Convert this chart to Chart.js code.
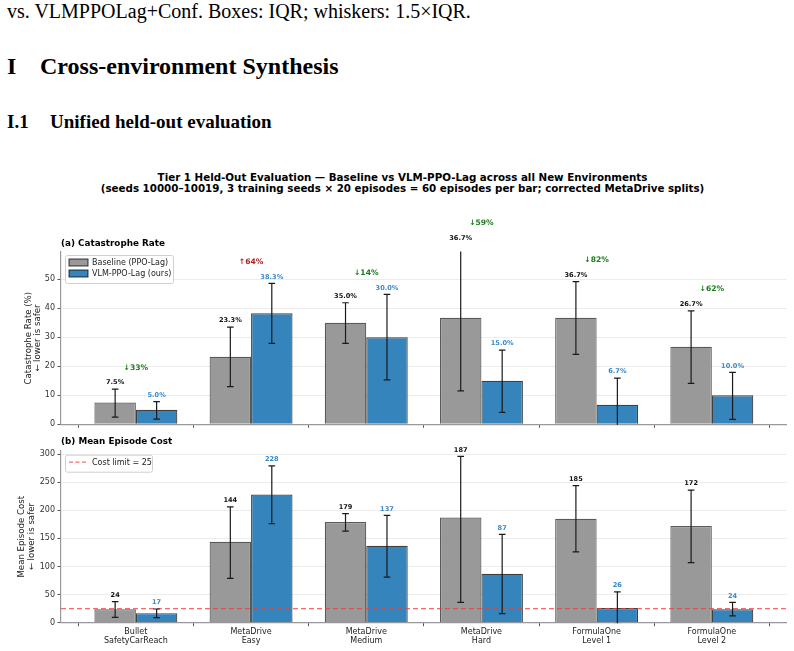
<!DOCTYPE html>
<html>
<head>
<meta charset="utf-8">
<script src="https://cdn.jsdelivr.net/npm/chart.js@4.4.1/dist/chart.umd.min.js"></script>
<style>
  body { margin: 0; background: #fff; width: 794px; height: 651px; overflow: hidden; position: relative; }
  .serif { position: absolute; white-space: nowrap; font-family: "Liberation Serif", "Times New Roman", serif; color: #000; line-height: 1; }
  .sup { position: absolute; left: 0; width: 805px; text-align: center; font-family: "DejaVu Sans", sans-serif; font-weight: bold; font-size: 10.3px; line-height: 11px; color: #000; }
  .box { position: absolute; left: 0; width: 794px; }
</style>
</head>
<body>
<div class="serif" style="left:7px; top:1px; font-size:20px;">vs. VLMPPOLag+Conf. Boxes: IQR; whiskers: 1.5×IQR.</div>
<div class="serif" style="left:7px; top:54px; font-size:24px; font-weight:bold;">I</div>
<div class="serif" style="left:40px; top:54px; font-size:24px; font-weight:bold;">Cross-environment Synthesis</div>
<div class="serif" style="left:7px; top:111.5px; font-size:19px; font-weight:bold;">I.1</div>
<div class="serif" style="left:50px; top:111.5px; font-size:19px; font-weight:bold;">Unified held-out evaluation</div>

<div class="sup" style="top:172px;">Tier 1 Held-Out Evaluation — Baseline vs VLM-PPO-Lag across all New Environments<br>(seeds 10000–10019, 3 training seeds × 20 episodes = 60 episodes per bar; corrected MetaDrive splits)</div>

<div class="box" style="top:205px; height:227px;"><canvas id="rate"></canvas></div>
<div class="box" style="top:432px; height:219px;"><canvas id="cost"></canvas></div>

<script>
// environments (x categories)
const envs = [
  ['Bullet', 'SafetyCarReach'],
  ['MetaDrive', 'Easy'],
  ['MetaDrive', 'Medium'],
  ['MetaDrive', 'Hard'],
  ['FormulaOne', 'Level 1'],
  ['FormulaOne', 'Level 2']
];

// (a) catastrophe rate, %
const rateBase   = [7.5, 23.3, 35.0, 36.7, 36.7, 26.7];
const rateBaseLo = [2.5, 13.0, 27.9, 11.5, 24.1, 14.1];
const rateBaseHi = [12.1, 33.5, 41.9, 61.9, 49.2, 39.1];
const rateVlm    = [5.0, 38.3, 30.0, 15.0, 6.7, 10.0];
const rateVlmLo  = [1.8, 27.9, 15.3, 4.1, -2.5, 1.7];
const rateVlmHi  = [7.8, 48.6, 44.8, 25.6, 15.9, 17.9];
const rateChange = ['↓33%', '↑64%', '↓14%', '↓59%', '↓82%', '↓62%'];

// (b) mean episode cost
const costBase   = [24, 144, 179, 187, 185, 172];
const costBaseLo = [9.6, 79, 163, 36, 126, 107];
const costBaseHi = [37.4, 206, 194, 296, 244, 236];
const costVlm    = [17, 228, 137, 87, 26, 24];
const costVlmLo  = [8.9, 176, 81, 16, -3, 12];
const costVlmHi  = [24.4, 279, 191, 157, 55, 36];
const costLimit  = 25;

const GRAY = '#999999';
const BLUE = '#3584bb';
const FONT = '"DejaVu Sans", sans-serif';

function pts(arr) { return arr.map((v, i) => ({ x: i, y: v })); }

// error bars, value labels, change labels, legend and panel title
function makeDecor(cfg) {
  return {
    id: 'decor',
    afterDatasetsDraw(chart) {
      const ctx = chart.ctx, a = chart.chartArea, y = chart.scales.y;

      ctx.save();
      ctx.beginPath();
      ctx.rect(a.left, a.top - 0.5, a.right - a.left, a.bottom - a.top + 1);
      ctx.clip();
      ctx.strokeStyle = '#1a1a1a';
      ctx.lineWidth = 1.2;
      cfg.errors.forEach((e, d) => {
        chart.getDatasetMeta(d).data.forEach((bar, i) => {
          const x = bar.x, yl = y.getPixelForValue(e.lo[i]), yh = y.getPixelForValue(e.hi[i]);
          ctx.beginPath();
          ctx.moveTo(x, yl); ctx.lineTo(x, yh);
          ctx.moveTo(x - 3.3, yl); ctx.lineTo(x + 3.3, yl);
          ctx.moveTo(x - 3.3, yh); ctx.lineTo(x + 3.3, yh);
          ctx.stroke();
        });
      });
      ctx.restore();

      ctx.save();
      ctx.textAlign = 'center';
      ctx.textBaseline = 'middle';
      ctx.font = 'bold 6.6px ' + FONT;
      cfg.errors.forEach((e, d) => {
        ctx.fillStyle = e.color;
        chart.getDatasetMeta(d).data.forEach((bar, i) => {
          ctx.fillText(cfg.fmt(e.val[i]), bar.x, y.getPixelForValue(e.hi[i]) - 6.5);
        });
      });

      if (cfg.change) {
        ctx.font = 'bold 7.6px ' + FONT;
        const m0 = chart.getDatasetMeta(0).data, m1 = chart.getDatasetMeta(1).data;
        cfg.change.forEach((t, i) => {
          const top = Math.max(cfg.errors[0].hi[i], cfg.errors[1].hi[i]);
          ctx.fillStyle = t.startsWith('↑') ? '#b01e1e' : '#1b7d1b';
          ctx.fillText(t, (m0[i].x + m1[i].x) / 2, y.getPixelForValue(top) - 21.5);
        });
      }

      // panel title
      ctx.textAlign = 'left';
      ctx.fillStyle = '#000';
      ctx.font = 'bold 8.8px ' + FONT;
      ctx.fillText(cfg.title, a.left, a.top - 8.5);

      // legend
      const L = cfg.legend;
      const bx = a.left + 4, by = a.top + L.dy;
      ctx.fillStyle = 'rgba(255,255,255,0.85)';
      ctx.strokeStyle = '#d0d0d0';
      ctx.lineWidth = 1;
      ctx.beginPath();
      ctx.roundRect(bx + 0.5, by + 0.5, L.w, L.items.length * 11 + 6, 2);
      ctx.fill(); ctx.stroke();
      ctx.font = '8px ' + FONT;
      L.items.forEach((it, k) => {
        const cy = by + 7.5 + k * 11;
        if (it.dash) {
          ctx.strokeStyle = it.color; ctx.lineWidth = 1.2; ctx.setLineDash([4, 2.5]);
          ctx.beginPath(); ctx.moveTo(bx + 4, cy); ctx.lineTo(bx + 23, cy); ctx.stroke();
          ctx.setLineDash([]);
        } else {
          ctx.fillStyle = it.color;
          ctx.fillRect(bx + 4, cy - 3.5, 19, 7);
          ctx.strokeStyle = 'rgba(0,0,0,0.75)'; ctx.lineWidth = 1;
          ctx.strokeRect(bx + 4, cy - 3.5, 19, 7);
        }
        ctx.fillStyle = '#222';
        ctx.fillText(it.text, bx + 27, cy + 0.5);
      });
      ctx.restore();
    }
  };
}

function makeChart(id, cfg) {
  const datasets = [
    { label: 'Baseline (PPO-Lag)', data: pts(cfg.base), backgroundColor: GRAY,
      borderColor: 'rgba(0,0,0,0.65)', borderWidth: 1.2, categoryPercentage: 0.72, barPercentage: 1 },
    { label: 'VLM-PPO-Lag (ours)', data: pts(cfg.vlm), backgroundColor: BLUE,
      borderColor: 'rgba(0,0,0,0.75)', borderWidth: 1.2, categoryPercentage: 0.72, barPercentage: 1 }
  ];
  if (cfg.limit != null) {
    datasets.push({ type: 'line', label: 'Cost limit = ' + cfg.limit,
      data: [{ x: -0.65, y: cfg.limit }, { x: 5.65, y: cfg.limit }],
      borderColor: 'rgba(240,60,60,0.75)', borderWidth: 1.2, borderDash: [5, 3],
      pointRadius: 0, order: -1 });
  }
  return new Chart(document.getElementById(id), {
    type: 'bar',
    data: { datasets },
    options: {
      responsive: true,
      maintainAspectRatio: false,
      animation: false,
      devicePixelRatio: 1,
      layout: { padding: { left: 0, right: 7.3, top: cfg.padTop, bottom: 0 } },
      plugins: { legend: { display: false }, tooltip: { enabled: false }, title: { display: false } },
      scales: {
        x: {
          type: 'linear', min: -0.65, max: 5.65, offset: false,
          afterBuildTicks: s => { s.ticks = envs.map((e, i) => ({ value: i })); },
          afterFit: s => { s.height = cfg.xHeight; },
          ticks: {
            display: cfg.showX, autoSkip: false, maxRotation: 0, padding: 1.5,
            color: '#222', font: { family: FONT, size: 8, lineHeight: 1.13 },
            callback: v => envs[v] || ''
          },
          grid: { drawOnChartArea: false, drawTicks: true, tickLength: 3.5, tickColor: '#555' },
          border: { color: '#999', width: 1.2 }
        },
        y: {
          min: 0, max: cfg.yMax,
          afterFit: s => { s.width = 61; },
          ticks: { stepSize: cfg.step, includeBounds: false, padding: 2.5, color: '#333',
            font: { family: FONT, size: 8 } },
          grid: { color: '#ececec', lineWidth: 1, tickLength: 3.5, tickColor: '#555' },
          border: { color: '#999', width: 1.2 },
          title: { display: true, text: cfg.yTitle, color: '#222',
            font: { family: FONT, size: 8.6, lineHeight: 1.1 }, padding: { top: cfg.titlePad, bottom: 0 } }
        }
      }
    },
    plugins: [makeDecor(cfg.decor)]
  });
}

makeChart('rate', {
  base: rateBase, vlm: rateVlm, yMax: 59.4, step: 10, padTop: 47, xHeight: 7.7, showX: false,
  yTitle: ['Catastrophe Rate (%)', '← lower is safer'], titlePad: 24,
  decor: {
    title: '(a) Catastrophe Rate',
    fmt: v => v.toFixed(1) + '%',
    errors: [
      { val: rateBase, lo: rateBaseLo, hi: rateBaseHi, color: '#111' },
      { val: rateVlm, lo: rateVlmLo, hi: rateVlmHi, color: '#3a89c9' }
    ],
    change: rateChange,
    legend: { dy: 3, w: 108, items: [
      { text: 'Baseline (PPO-Lag)', color: GRAY },
      { text: 'VLM-PPO-Lag (ours)', color: BLUE }
    ] }
  }
});

makeChart('cost', {
  base: costBase, vlm: costVlm, yMax: 306, step: 50, padTop: 18.7, xHeight: 28.3, showX: true,
  limit: costLimit,
  yTitle: ['Mean Episode Cost', '← lower is safer'], titlePad: 17.5,
  decor: {
    title: '(b) Mean Episode Cost',
    fmt: v => String(Math.round(v)),
    errors: [
      { val: costBase, lo: costBaseLo, hi: costBaseHi, color: '#111' },
      { val: costVlm, lo: costVlmLo, hi: costVlmHi, color: '#3a89c9' }
    ],
    change: null,
    legend: { dy: 4, w: 87, items: [
      { text: 'Cost limit = ' + costLimit, color: 'rgba(240,60,60,0.75)', dash: true }
    ] }
  }
});
</script>
</body>
</html>
